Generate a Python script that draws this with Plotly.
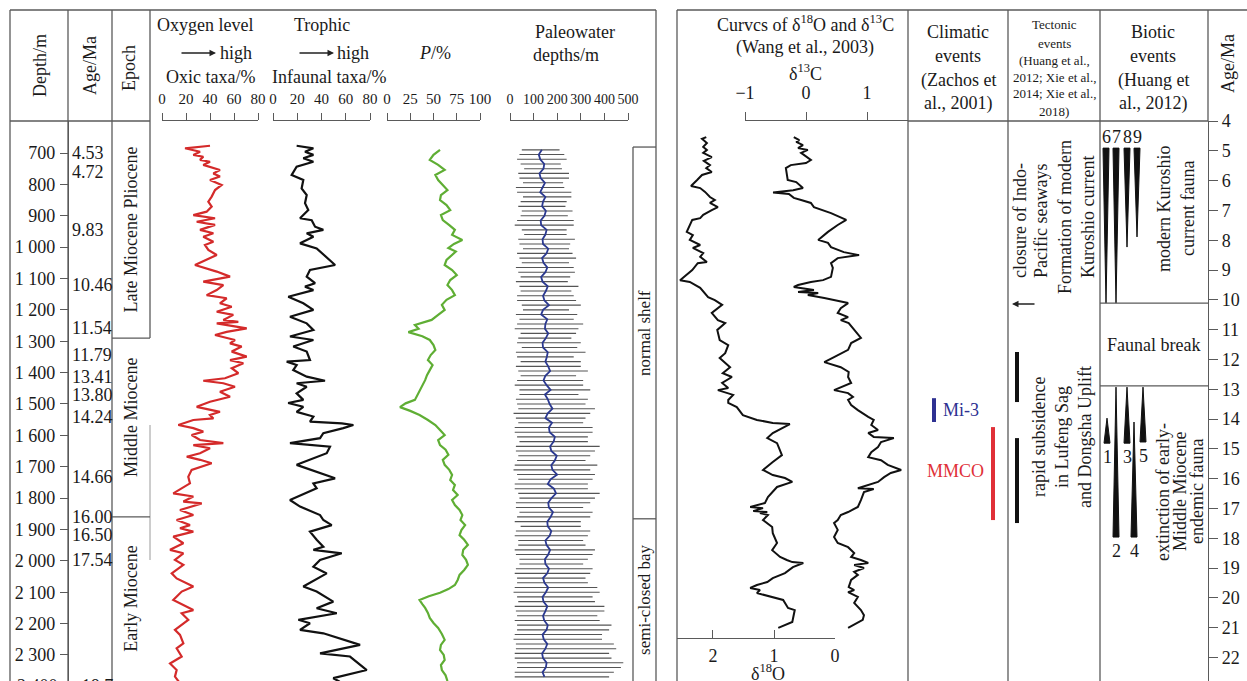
import plotly.graph_objects as go

W, H = 1247, 681
FONT = "Liberation Serif"
LC = "#5a5a5a"
TC = "#1a1a1a"

# ---------------- data: left panel (vs depth, m) ----------------
oxic_depth = [677, 685, 696, 706, 712, 722, 728, 738, 754, 765, 775, 786, 802, 818, 839, 855, 871, 887, 898, 908,
              919, 929, 945, 956, 967, 983, 993, 1009, 1025, 1041, 1057, 1078, 1094, 1110, 1121, 1137, 1153, 1163,
              1179, 1190, 1206, 1216, 1232, 1238, 1243, 1259, 1270, 1280, 1296, 1307, 1317, 1333, 1349, 1360, 1370,
              1386, 1402, 1418, 1426, 1434, 1445, 1461, 1477, 1493, 1509, 1525, 1535, 1546, 1551, 1567, 1577, 1588,
              1599, 1615, 1625, 1631, 1641, 1657, 1668, 1678, 1689, 1710, 1732, 1753, 1785, 1795, 1811, 1817, 1838,
              1854, 1870, 1886, 1896, 1907, 1923, 1944, 1965, 1976, 1997, 2013, 2040, 2056, 2082, 2098, 2125, 2157,
              2167, 2188, 2220, 2236, 2263, 2279, 2305, 2327, 2348, 2369, 2385]
oxic_pct = [40.0, 19.2, 31.7, 26.1, 34.4, 31.7, 40.0, 34.4, 48.3, 42.8, 48.3, 40.0, 49.7, 44.2, 41.4, 38.6, 41.4, 37.2,
            26.1, 44.2, 28.9, 44.2, 31.7, 42.8, 34.4, 42.8, 35.8, 38.6, 45.6, 37.2, 27.5, 45.6, 56.7, 34.4, 51.1,
            45.6, 37.2, 53.9, 48.3, 58.1, 45.6, 59.4, 51.1, 63.6, 45.6, 70.6, 53.9, 44.2, 60.8, 56.7, 66.4, 58.1,
            70.6, 56.7, 67.8, 58.1, 63.6, 52.5, 34.4, 51.1, 60.8, 48.3, 56.7, 40.0, 28.9, 48.3, 40.0, 42.8, 26.1,
            13.6, 26.1, 34.4, 24.7, 31.7, 51.1, 26.1, 40.0, 31.7, 20.6, 31.7, 41.4, 24.7, 21.9, 23.3, 9.4, 26.1,
            17.8, 33.1, 15.0, 26.1, 12.2, 23.3, 15.0, 26.1, 9.4, 17.8, 6.7, 17.8, 10.8, 17.8, 8.1, 12.2, 26.1, 16.4,
            9.4, 26.1, 16.4, 21.9, 10.8, 15.0, 17.8, 12.2, 16.4, 6.7, 12.2, 10.8, 14.0]

inf_depth = [677, 685, 696, 706, 717, 728, 744, 770, 786, 813, 834, 860, 882, 908, 914, 935, 945, 956, 967, 988, 1004,
             1057, 1073, 1094, 1115, 1126, 1137, 1158, 1179, 1200, 1222, 1243, 1264, 1285, 1296, 1317, 1333, 1360,
             1365, 1376, 1392, 1413, 1426, 1434, 1445, 1466, 1487, 1497, 1509, 1525, 1540, 1556, 1562, 1567, 1577,
             1593, 1609, 1625, 1636, 1657, 1694, 1716, 1737, 1753, 1769, 1806, 1827, 1854, 1870, 1886, 1907, 1933,
             1955, 1965, 1976, 1997, 2019, 2040, 2082, 2098, 2130, 2151, 2167, 2188, 2199, 2220, 2231, 2268, 2295,
             2305, 2348, 2374, 2385]
inf_pct = [19.5, 33.3, 26.4, 33.3, 25.0, 33.3, 19.5, 15.4, 25.0, 23.6, 27.8, 26.4, 29.1, 22.3, 31.9, 34.7, 41.5, 27.8,
           33.3, 22.3, 36.0, 51.2, 30.5, 27.8, 34.7, 26.4, 33.3, 12.6, 25.0, 33.3, 14.0, 27.8, 33.3, 14.0, 33.3, 16.7,
           27.8, 30.5, 11.3, 19.5, 16.7, 27.8, 42.9, 19.5, 27.8, 19.5, 25.0, 12.5, 25.0, 19.5, 33.3, 30.5, 56.7, 66.3,
           58.0, 41.5, 38.8, 14.0, 47.0, 44.3, 19.5, 36.0, 51.2, 33.3, 36.0, 14.0, 22.3, 38.8, 41.5, 48.4, 30.5, 36.0,
           41.5, 33.3, 56.7, 38.8, 33.3, 44.3, 25.0, 36.0, 49.7, 36.0, 52.6, 20.9, 30.5, 22.3, 41.5, 71.8, 38.8, 63.5,
           77.3, 49.7, 55.0]

p_depth = [690, 706, 722, 738, 754, 770, 786, 802, 818, 834, 850, 866, 882, 898, 914, 930, 945, 961, 977, 990, 1003,
           1014, 1025, 1041, 1057, 1073, 1089, 1105, 1121, 1137, 1153, 1168, 1184, 1200, 1216, 1232, 1248, 1260, 1271,
           1284, 1296, 1312, 1328, 1344, 1360, 1376, 1392, 1408, 1424, 1440, 1456, 1471, 1487, 1498, 1510, 1522,
           1535, 1551, 1567, 1583, 1599, 1615, 1631, 1646, 1662, 1678, 1694, 1710, 1726, 1742, 1758, 1774, 1790,
           1806, 1822, 1838, 1854, 1870, 1886, 1902, 1918, 1933, 1949, 1965, 1981, 1997, 2013, 2029, 2045, 2061,
           2077, 2090, 2102, 2113, 2125, 2138, 2150, 2166, 2182, 2198, 2214, 2233, 2252, 2268, 2284, 2300, 2316,
           2332, 2348, 2365, 2383]
p_pct = [57, 50, 46, 55, 62, 52, 55, 60, 65, 58, 57, 64, 68, 58, 60, 67, 73, 70, 81, 72, 66, 74, 70, 64, 62, 70, 75,
         68, 65, 70, 73, 64, 59, 62, 55, 48, 30, 34, 23, 38, 46, 50, 52, 47, 44, 49, 46, 43, 41, 38, 35, 33, 30, 20,
         14, 25, 35, 44, 52, 57, 62, 55, 57, 63, 66, 60, 62, 67, 70, 68, 73, 71, 76, 70, 73, 78, 81, 79, 84, 80, 78,
         83, 87, 82, 81, 85, 87, 83, 78, 76, 73, 66, 57, 45, 35, 38, 41, 44, 46, 50, 55, 59, 62, 58, 57, 61, 62, 58,
         59, 63, 65]

pw_depth = [690, 705, 720, 735, 750, 765, 780, 795, 810, 825, 840, 855, 870, 885, 900, 915, 930, 945, 960, 975, 990,
            1005, 1020, 1035, 1050, 1065, 1080, 1095, 1110, 1125, 1140, 1155, 1170, 1185, 1200, 1215, 1230, 1245,
            1260, 1275, 1290, 1305, 1320, 1335, 1350, 1365, 1380, 1395, 1410, 1425, 1440, 1455, 1470, 1485, 1500,
            1515, 1530, 1545, 1560, 1575, 1590, 1605, 1620, 1635, 1650, 1665, 1680, 1695, 1710, 1725, 1740, 1755,
            1770, 1785, 1800, 1815, 1830, 1845, 1860, 1875, 1890, 1905, 1920, 1935, 1950, 1965, 1980, 1995, 2010,
            2025, 2040, 2055, 2070, 2085, 2100, 2115, 2130, 2145, 2160, 2175, 2190, 2205, 2220, 2235, 2250, 2265,
            2280, 2295, 2310, 2325, 2340, 2355, 2370]
pw_mean = [135, 122, 128, 145, 142, 125, 130, 148, 138, 128, 150, 140, 136, 152, 146, 130, 132, 155, 150, 138, 140,
           162, 155, 136, 142, 158, 150, 132, 138, 160, 152, 140, 146, 165, 140, 132, 158, 150, 148, 162, 152, 138,
           140, 160, 156, 150, 162, 170, 150, 142, 155, 172, 148, 160, 168, 180, 160, 150, 178, 165, 168, 190, 185,
           170, 175, 198, 190, 175, 180, 200, 172, 160, 186, 195, 176, 162, 165, 182, 172, 158, 160, 175, 168, 150,
           155, 170, 162, 148, 150, 165, 158, 140, 146, 162, 152, 138, 142, 158, 150, 140, 145, 160, 155, 138, 143,
           158, 150, 136, 140, 155, 152, 138, 146]
pw_min = [50, 40, 30, 45, 60, 35, 40, 55, 25, 30, 55, 45, 35, 50, 45, 30, 20, 50, 60, 35, 40, 55, 30, 40, 50, 25, 35,
          45, 25, 40, 45, 30, 30, 50, 55, 25, 40, 30, 20, 45, 35, 30, 50, 25, 30, 45, 25, 35, 45, 30, 20, 40, 40, 25,
          30, 35, 15, 25, 35, 20, 20, 30, 40, 25, 25, 35, 30, 20, 15, 30, 35, 20, 20, 35, 40, 25, 25, 40, 30, 20, 45,
          25, 20, 35, 35, 20, 25, 40, 40, 25, 20, 30, 30, 20, 15, 30, 35, 20, 25, 30, 20, 30, 30, 20, 15, 25, 25, 20,
          20, 30, 30, 20, 20]
pw_max = [210, 230, 240, 215, 220, 250, 250, 225, 230, 260, 260, 240, 235, 265, 245, 270, 270, 240, 240, 275, 255,
          250, 265, 280, 250, 270, 275, 255, 245, 290, 260, 270, 280, 300, 250, 285, 270, 310, 290, 280, 260, 300,
          285, 320, 270, 300, 300, 330, 280, 310, 310, 340, 290, 330, 320, 360, 340, 320, 310, 350, 350, 330, 330,
          380, 360, 340, 320, 370, 340, 360, 350, 330, 330, 380, 360, 340, 310, 350, 340, 300, 300, 340, 330, 310,
          320, 360, 350, 330, 310, 350, 340, 320, 330, 370, 380, 350, 360, 400, 400, 370, 380, 430, 420, 390, 390,
          440, 450, 420, 430, 480, 470, 440, 420]

depth_ticks = [700, 800, 900, 1000, 1100, 1200, 1300, 1400, 1500, 1600, 1700, 1800, 1900, 2000, 2100, 2200, 2300]
depth_ticktext = ["700", "800", "900", "1 000", "1 100", "1 200", "1 300", "1 400", "1 500", "1 600", "1 700",
                  "1 800", "1 900", "2 000", "2 100", "2 200", "2 300"]

age_lbl_text = ["4.53", "4.72", "9.83", "10.46", "11.54", "11.79", "13.41", "13.80", "14.24", "14.66", "16.00",
                "16.50", "17.54"]
age_lbl_depth = [700, 761, 945, 1121, 1258, 1344, 1414, 1471, 1541, 1733, 1860, 1918, 1997]

epoch_names = ["Late Miocene Pliocene", "Middle Miocene", "Early Miocene"]
epoch_top = [598, 1290, 1860]
epoch_base = [1290, 1860, 2383]
epoch_label_depth = [944, 1545, 2121]

env_names = ["normal shelf", "semi-closed bay"]
env_top = [681, 1866]
env_base = [1866, 2383]

# ---------------- data: right panel (vs age, Ma) ----------------
d18_age = [4.54, 4.60, 4.74, 4.87, 4.97, 5.07, 5.21, 5.34, 5.48, 5.58, 5.71, 5.81, 5.98, 6.18, 6.25, 6.38, 6.55,
           6.65, 6.75, 6.89, 6.99, 7.15, 7.26, 7.32, 7.72, 7.83, 7.99, 8.16, 8.26, 8.43, 8.56, 8.73, 8.77, 9.00,
           9.34, 9.40, 9.60, 9.91, 10.01, 10.17, 10.44, 10.68, 10.78, 11.01, 11.35, 11.52, 11.79, 11.95, 12.26,
           12.46, 12.59, 12.79, 12.96, 13.03, 13.19, 13.36, 13.46, 13.60, 13.87, 14.03, 14.13, 14.17, 14.47, 14.64,
           14.81, 15.21, 15.44, 15.71, 15.88, 15.98, 16.11, 16.28, 16.62, 16.82, 16.95, 16.99, 17.09, 17.12, 17.15,
           17.22, 17.39, 17.62, 17.83, 18.16, 18.40, 18.63, 18.73, 18.80, 18.83, 18.97, 19.17, 19.34, 19.47, 19.57,
           19.67, 19.74, 19.84, 19.97, 20.07, 20.34, 20.41, 20.81, 21.01]
d18_val = [2.11, 2.18, 2.10, 2.16, 2.10, 2.16, 2.02, 2.15, 2.05, 2.11, 2.02, 2.18, 2.26, 2.36, 2.21, 2.13, 2.05, 1.97,
           2.05, 1.92, 2.02, 2.16, 2.21, 2.34, 2.43, 2.33, 2.38, 2.21, 2.33, 2.16, 2.21, 2.10, 2.25, 2.34, 2.54, 2.38,
           2.21, 2.08, 1.97, 1.85, 2.02, 1.92, 1.80, 1.93, 1.89, 1.75, 1.80, 1.89, 1.72, 1.84, 1.69, 1.85, 1.75, 1.92,
           1.67, 1.75, 1.75, 1.61, 1.51, 1.28, 1.02, 0.74, 1.02, 1.11, 0.95, 0.87, 1.02, 1.18, 1.02, 0.82, 0.70, 0.95,
           1.10, 1.15, 1.39, 1.18, 1.34, 1.11, 1.23, 1.10, 1.18, 1.03, 1.02, 0.95, 1.03, 0.90, 0.79, 0.70, 0.52, 0.69,
           0.82, 1.02, 1.11, 1.28, 1.39, 1.23, 1.28, 1.02, 0.85, 0.77, 0.66, 0.70, 0.93]

d13_age = [4.54, 4.64, 4.70, 4.81, 4.91, 4.97, 5.07, 5.31, 5.41, 5.48, 5.58, 5.98, 6.05, 6.15, 6.25, 6.32, 6.40,
           6.45, 6.58, 6.65, 6.75, 6.89, 7.09, 7.32, 7.49, 7.72, 7.89, 7.99, 8.09, 8.23, 8.40, 8.50, 8.60, 8.77,
           8.93, 9.23, 9.34, 9.40, 9.50, 9.57, 9.67, 9.74, 9.77, 9.84, 9.94, 10.01, 10.11, 10.28, 10.44, 10.58,
           10.68, 10.78, 11.28, 11.45, 11.68, 11.92, 12.09, 12.26, 12.42, 12.59, 12.79, 13.03, 13.13, 13.26, 13.36,
           13.53, 13.70, 13.93, 14.03, 14.20, 14.37, 14.47, 14.60, 14.64, 14.77, 14.94, 15.11, 15.28, 15.38, 15.54,
           15.71, 15.81, 15.95, 16.11, 16.21, 16.28, 16.32, 16.35, 16.45, 16.72, 16.95, 17.12, 17.22, 17.39, 17.49,
           17.72, 17.96, 18.16, 18.30, 18.50, 18.63, 18.73, 18.83, 18.90, 19.00, 19.13, 19.23, 19.40, 19.64, 19.74,
           19.81, 19.97, 20.17, 20.41, 20.58, 20.74, 20.91, 21.01]
d13_val = [-0.20, -0.11, -0.16, -0.05, -0.13, 0.03, -0.08, 0.08, 0.00, -0.25, -0.33, -0.30, -0.16, -0.11, -0.05,
           -0.21, -0.54, -0.28, -0.20, -0.08, 0.08, 0.13, 0.41, 0.66, 0.52, 0.36, 0.25, 0.20, 0.36, 0.41, 0.62, 0.87,
           0.52, 0.41, 0.44, 0.41, 0.28, 0.08, -0.13, -0.20, 0.13, -0.13, 0.20, 0.03, 0.30, 0.46, 0.69, 0.57, 0.52,
           0.69, 0.57, 0.70, 0.90, 0.74, 0.69, 0.46, 0.30, 0.57, 0.70, 0.69, 0.74, 0.46, 0.69, 0.77, 0.69, 0.74, 0.85,
           1.02, 1.11, 1.07, 1.18, 1.02, 1.11, 1.44, 1.23, 1.18, 1.07, 1.02, 1.23, 1.34, 1.56, 1.39, 1.28, 1.18, 1.02,
           0.90, 0.85, 1.11, 0.95, 0.90, 0.85, 0.69, 0.57, 0.52, 0.46, 0.52, 0.46, 0.52, 0.69, 0.79, 0.74, 0.90, 1.02,
           0.79, 0.95, 0.79, 0.85, 0.74, 0.70, 0.79, 0.69, 0.85, 0.79, 0.90, 0.95, 0.93, 0.79, 0.69]

clim_names = ["Mi-3", "MMCO"]
clim_top = [13.30, 14.27]
clim_base = [14.10, 17.39]
clim_colors = ["#2e3192", "#e03038"]

tect_top = [11.75, 14.64]
tect_base = [13.43, 17.49]
tect_arrow_age = 10.14

bio_id = ["1", "2", "3", "4", "5", "6", "7", "8", "9"]
bio_thin_age = [13.97, 12.93, 12.93, 14.10, 12.93, 10.11, 10.11, 8.23, 7.89]
bio_thick_age = [14.81, 17.96, 14.81, 17.96, 14.77, 4.91, 4.91, 4.91, 4.91]
faunal_break = [10.11, 12.89]

age_ticks = list(range(4, 23))

# ---------------- layout helpers ----------------
def px(x):
    return x / W


def py(y):
    return 1 - y / H


bio_xpos = {"1": 7, "2": 16, "3": 27, "4": 34, "5": 43, "6": 6, "7": 16, "8": 27, "9": 37}

fig = go.Figure()

fig.add_trace(go.Scatter(x=oxic_pct, y=oxic_depth, mode="lines",
                         line=dict(color="#d42a2a", width=2.2), xaxis="x", yaxis="y",
                         showlegend=False, hoverinfo="skip"))
fig.add_trace(go.Scatter(x=inf_pct, y=inf_depth, mode="lines",
                         line=dict(color="#111111", width=2.2), xaxis="x2", yaxis="y",
                         showlegend=False, hoverinfo="skip"))
fig.add_trace(go.Scatter(x=p_pct, y=p_depth, mode="lines",
                         line=dict(color="#5fae34", width=2.2), xaxis="x3", yaxis="y",
                         showlegend=False, hoverinfo="skip"))
fig.add_trace(go.Scatter(
    x=pw_mean, y=pw_depth, mode="markers", marker=dict(size=1, color="rgba(0,0,0,0)"),
    error_x=dict(type="data", symmetric=False,
                 array=[hi - m for hi, m in zip(pw_max, pw_mean)],
                 arrayminus=[m - lo for lo, m in zip(pw_min, pw_mean)],
                 color="#555555", thickness=1.1, width=0),
    xaxis="x4", yaxis="y", showlegend=False, hoverinfo="skip"))
fig.add_trace(go.Scatter(x=pw_mean, y=pw_depth, mode="lines",
                         line=dict(color="#2b3990", width=1.8), xaxis="x4", yaxis="y",
                         showlegend=False, hoverinfo="skip"))

fig.add_trace(go.Scatter(x=d18_val, y=d18_age, mode="lines",
                         line=dict(color="#111111", width=2), xaxis="x6", yaxis="y2",
                         showlegend=False, hoverinfo="skip"))
fig.add_trace(go.Scatter(x=d13_val, y=d13_age, mode="lines",
                         line=dict(color="#111111", width=2), xaxis="x5", yaxis="y2",
                         showlegend=False, hoverinfo="skip"))

HALF_W = 3.0
for bid, thin, thick in zip(bio_id, bio_thin_age, bio_thick_age):
    c = bio_xpos[bid]
    fig.add_trace(go.Scatter(x=[c - HALF_W, c + HALF_W, c, c - HALF_W], y=[thick, thick, thin, thick],
                             mode="lines", fill="toself", fillcolor="#111111",
                             line=dict(color="#111111", width=1), xaxis="x7", yaxis="y2",
                             showlegend=False, hoverinfo="skip"))

shapes = []


def hline(x0, x1, y, yref="paper", color=LC, width=1.3):
    yy = py(y) if yref == "paper" else y
    shapes.append(dict(type="line", xref="paper", yref=yref, x0=px(x0), x1=px(x1), y0=yy, y1=yy,
                       line=dict(color=color, width=width)))


def vline(x, y0, y1, yref="paper", color=LC, width=1.3):
    a = py(y0) if yref == "paper" else y0
    b = py(y1) if yref == "paper" else y1
    shapes.append(dict(type="line", xref="paper", yref=yref, x0=px(x), x1=px(x), y0=a, y1=b,
                       line=dict(color=color, width=width)))


# left panel frame
hline(10, 656, 10)
vline(10, 10, 681)
vline(656, 10, 681)
vline(68, 10, 681)
vline(112, 10, 681)
vline(150, 10, 338)
vline(150, 425, 560, color="#9a9a9a", width=1)
hline(10, 150, 121)
for b in epoch_top[1:]:
    hline(112, 150, b, yref="y")
# environment boxes
vline(633, env_top[0], env_base[-1], yref="y")
hline(633, 656, env_top[0], yref="y")
for b in env_top[1:]:
    hline(633, 656, b, yref="y")

# right panel frame
hline(677, 1247, 10)
vline(677, 10, 681)
vline(908, 10, 681)
vline(1008, 10, 681)
vline(1100, 10, 681)
vline(1208, 10, 121)
hline(908, 1208, 121)
for b in faunal_break:
    hline(1100, 1208, b, yref="y2")

# climatic & tectonic bars
clim_x = [934, 993]
for xx, t, bb, col in zip(clim_x, clim_top, clim_base, clim_colors):
    vline(xx, t, bb, yref="y2", color=col, width=4)
for t, bb in zip(tect_top, tect_base):
    vline(1017, t, bb, yref="y2", color="#111111", width=4)

ann = []


def txt(x, y, s, size=18, color=TC, angle=0, xanchor="center", yanchor="middle", yref="paper", yshift=0):
    yy = py(y) if yref == "paper" else y
    ann.append(dict(x=px(x), y=yy, xref="paper", yref=yref, text=s, showarrow=False, textangle=angle,
                    xanchor=xanchor, yanchor=yanchor, yshift=yshift,
                    font=dict(family=FONT, size=size, color=color)))


# left headers
txt(40, 66, "Depth/m", angle=-90)
txt(90, 66, "Age/Ma", angle=-90)
txt(129, 68, "Epoch", angle=-90)
txt(205, 25, "Oxygen level")
txt(322, 25, "Trophic")
txt(236, 53, "high")
txt(353, 53, "high")
for hx in (216, 334):
    ann.append(dict(x=px(hx), y=py(53), xref="paper", yref="paper", ax=-36, ay=0, text="",
                    showarrow=True, arrowhead=2, arrowsize=1, arrowwidth=1.3, arrowcolor="#222"))
txt(210, 77, "Oxic taxa/%")
txt(329, 77, "Infaunal taxa/%")
txt(435, 53, "<i>P</i>/%")
txt(575, 32, "Paleowater")
txt(566, 55, "depths/m")

# age labels (left)
for s, d in zip(age_lbl_text, age_lbl_depth):
    txt(70, d, s, xanchor="left", yref="y")
txt(70, 686, "~18.7", xanchor="left")
txt(60, 686, "2 400", xanchor="right")

# epochs
for n, d in zip(epoch_names, epoch_label_depth):
    txt(131, d, n, angle=-90, yref="y")
# environments
for n, t, b in zip(env_names, env_top, env_base):
    txt(645, (t + b) / 2, n, angle=-90, size=17, yref="y")

# right headers
txt(805, 23, "Curvcs of δ<sup>18</sup>O and δ<sup>13</sup>C")
txt(805, 48, "(Wang et al., 2003)")
txt(805, 72, "δ<sup>13</sup>C")
txt(768, 672, "δ<sup>18</sup>O")
for s, yy in zip(["Climatic", "events", "(Zachos et", "al., 2001)"], [32, 56, 80, 103]):
    txt(958, yy, s)
for s, yy in zip(["Tectonic", "events", "(Huang et al.,", "2012; Xie et al.,", "2014; Xie et al.,", "2018)"],
                 [25, 43, 60, 77, 94, 112]):
    txt(1054, yy, s, size=13)
for s, yy in zip(["Biotic", "events", "(Huang et", "al., 2012)"], [32, 56, 80, 103]):
    txt(1153, yy, s)
txt(1228, 64, "Age/Ma", angle=-90)

# climatic labels
txt(941, (clim_top[0] + clim_base[0]) / 2, clim_names[0], color=clim_colors[0], xanchor="left", yref="y2")
txt(986, (clim_top[1] + clim_base[1]) / 2 - 0.1, clim_names[1], color=clim_colors[1], xanchor="right", yref="y2")

# tectonic
ann.append(dict(x=px(1012), y=tect_arrow_age, xref="paper", yref="y2", ax=24, ay=0, text="",
                showarrow=True, arrowhead=2, arrowsize=1, arrowwidth=1.3, arrowcolor="#222"))
for s, xx in zip(["closure of Indo-", "Pacific seaways"], [1020, 1041]):
    txt(xx, 221, s, angle=-90)
for s, xx in zip(["Formation of modern", "Kuroshio current"], [1065, 1088]):
    txt(xx, 217, s, angle=-90)
for s, xx in zip(["rapid subsidence", "in Lufeng Sag", "and Dongsha Uplift"], [1039, 1062, 1085]):
    txt(xx, 437, s, angle=-90)

# biotic
for bid, thin, thick in zip(bio_id, bio_thin_age, bio_thick_age):
    up = thick < thin
    ann.append(dict(x=bio_xpos[bid], y=thick, xref="x7", yref="y2", text=bid, showarrow=False,
                    xanchor="center", yanchor="middle", yshift=11 if up else -14,
                    font=dict(family=FONT, size=18, color=TC)))
txt(1153, (faunal_break[0] + faunal_break[1]) / 2, "Faunal break", yref="y2")
for s, xx in zip(["modern Kuroshio", "current fauna"], [1164, 1188]):
    txt(xx, 209, s, angle=-90)
for s, xx in zip(["extinction of early-", "Middle Miocene", "endemic fauna"], [1163, 1180, 1197]):
    txt(xx, 492, s, angle=-90)

ydom = [0, py(121)]
tickfont = dict(family=FONT, size=15, color=TC)
cx = dict(showgrid=False, zeroline=False, showline=True, linecolor=LC, linewidth=1.3, ticks="outside",
          tickcolor=LC, tickwidth=1.3, ticklen=7, tickfont=tickfont, side="top", fixedrange=True,
          ticklabelstandoff=3, tickangle=0, automargin=False)
cy = dict(showline=True, linecolor=LC, linewidth=1.3, showgrid=False, zeroline=False, ticks="outside",
          tickcolor=LC, tickwidth=1.3, tickfont=dict(family=FONT, size=18, color=TC), fixedrange=True,
          automargin=False)

fig.update_layout(
    template="none",
    width=W, height=H, margin=dict(l=0, r=0, t=0, b=0, pad=0, autoexpand=False),
    paper_bgcolor="white", plot_bgcolor="rgba(0,0,0,0)",
    font=dict(family=FONT, color=TC), hovermode=False, showlegend=False,
    xaxis=dict(cx, domain=[px(162), px(258)], range=[0, 80], tickvals=[0, 20, 40, 60, 80], anchor="y"),
    xaxis2=dict(cx, domain=[px(273), px(370)], range=[0, 80], tickvals=[0, 20, 40, 60, 80], anchor="y"),
    xaxis3=dict(cx, domain=[px(387), px(480)], range=[0, 100], tickvals=[0, 25, 50, 75, 100], anchor="y"),
    xaxis4=dict(cx, domain=[px(510), px(628)], range=[0, 500], tickvals=[0, 100, 200, 300, 400, 500],
                anchor="y", tickfont=dict(family=FONT, size=14, color=TC)),
    xaxis5=dict(cx, domain=[px(745), px(908)], range=[-1, 1.672], tickvals=[-1, 0, 1],
                ticktext=["\u22121", "0", "1"], anchor="y2", ticklen=8,
                tickfont=dict(family=FONT, size=18, color=TC), ticklabelstandoff=6),
    xaxis6=dict(cx, domain=[px(677), px(835)], range=[2.59, 0], tickvals=[2, 1, 0], side="bottom",
                anchor="free", position=py(638), ticks="inside", ticklen=8,
                tickfont=dict(family=FONT, size=18, color=TC), ticklabelstandoff=1),
    xaxis7=dict(domain=[px(1100), px(1208)], range=[0, 108], visible=False, anchor="y2", fixedrange=True,
                automargin=False),
    yaxis=dict(cy, domain=ydom, range=[2383, 598], anchor="free", position=px(68), side="left",
               tickvals=depth_ticks, ticktext=depth_ticktext, ticklen=8, ticklabelstandoff=1),
    yaxis2=dict(cy, domain=ydom, range=[22.79, 4], anchor="free", position=px(1208), side="right",
                tickvals=age_ticks, ticklen=9),
    shapes=shapes, annotations=ann,
)

fig.write_html("out.html")
